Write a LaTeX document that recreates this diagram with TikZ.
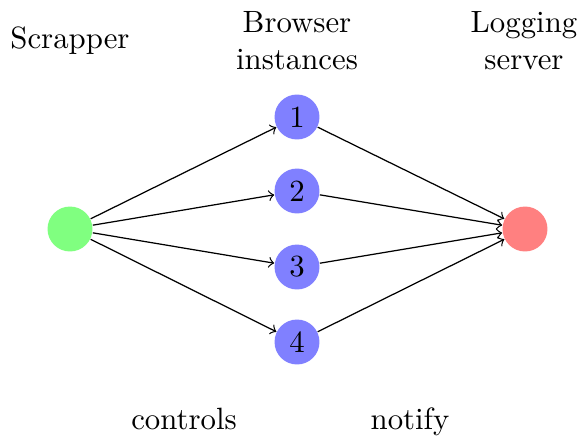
\documentclass[tikz,border=0pt]{standalone}
\begin{document}
\begin{tikzpicture}[x=0.3247pt,y=-0.3247pt,
  neuron/.style={circle,minimum size=14.6pt,inner sep=0pt},
  inp/.style={neuron,fill=green!50},
  hid/.style={neuron,fill=blue!50},
  outp/.style={neuron,fill=red!50},
  lbl/.style={align=center,inner sep=0pt},
  edge/.style={->,line width=0.4pt}]
\useasboundingbox (0,0) rectangle (579,435);
\node[inp] (I) at (70,229) {};
\node[hid] (H1) at (297,117) {1};
\node[hid] (H2) at (297,191) {2};
\node[hid] (H3) at (297,267) {3};
\node[hid] (H4) at (297,342) {4};
\node[outp] (O) at (525,229) {};
\foreach \h in {H1,H2,H3,H4} {
  \draw[edge] (I) -- (\h);
  \draw[edge] (\h) -- (O);
}
\node[lbl] (L1) at (70,41) {Scrapper};
\node[lbl] (L2) at (297,41) {Browser\\instances};
\node[lbl] (L3) at (524,41) {Logging\\server};
\node[lbl,anchor=base] (C) at (184,429) {controls};
\node[lbl,anchor=base] (N) at (410,429) {notify};
\end{tikzpicture}
\end{document}
